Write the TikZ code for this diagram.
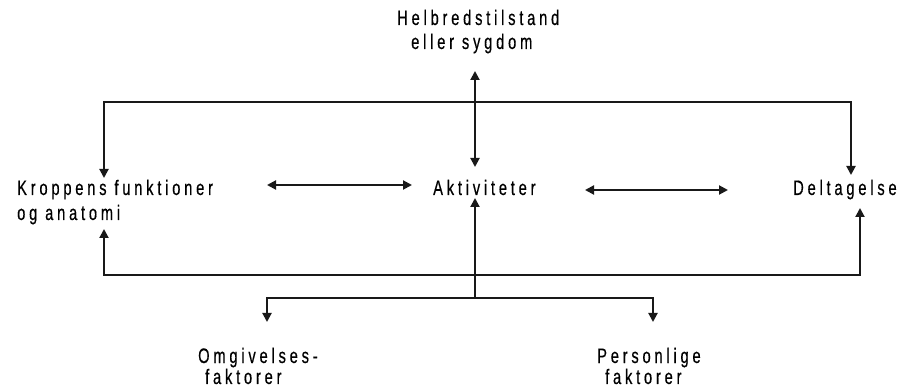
\documentclass[tikz,border=0pt]{standalone}
\usepackage{fontspec}
\setmainfont{Liberation Sans}[FakeStretch=0.7, LetterSpace=18, FakeBold=0.4]
\usetikzlibrary{arrows.meta}
\begin{document}
\begin{tikzpicture}[x=1pt,y=-1pt,
  lbl/.style={anchor=base west, inner sep=0pt, font=\fontsize{21}{24}\selectfont, text=black},
  conn/.style={line width=2pt, draw=black!90},
  tip/.style={-{Triangle[length=9pt,width=9pt]}},
  tips/.style={{Triangle[length=9pt,width=9pt]}-{Triangle[length=9pt,width=9pt]}}]
  \path[use as bounding box, fill=white] (0,0) rectangle (914,390);

  % labels
  \node[lbl] (helb) at (397,25) {Helbredstilstand};
  \node[lbl] (sygd) at (411,49) {eller sygdom};
  \node[lbl] (krop) at (17,195) {Kroppens funktioner};
  \node[lbl] (anat) at (17,220) {og anatomi};
  \node[lbl] (akt) at (433,195) {Aktiviteter};
  \node[lbl] (delt) at (793,195) {Deltagelse};
  \node[lbl] (omg) at (198,363) {Omgivelses-};
  \node[lbl] (omgf) at (205,384) {faktorer};
  \node[lbl] (pers) at (597,363) {Personlige};
  \node[lbl] (persf) at (605,384) {faktorer};

  % connector end points
  \coordinate (hTop) at (475,71);
  \coordinate (hBot) at (475,167);
  \coordinate (kR) at (267,185);
  \coordinate (aL) at (412,185);
  \coordinate (aR) at (585,190);
  \coordinate (dL) at (728,190);
  \coordinate (topL) at (104,102);
  \coordinate (topR) at (851,102);
  \coordinate (kTop) at (104,178);
  \coordinate (dTop) at (851,175);
  \coordinate (botL) at (104,275);
  \coordinate (botR) at (860,275);
  \coordinate (kBot) at (104,229);
  \coordinate (dBot) at (860,208);
  \coordinate (aBot) at (475,198);
  \coordinate (split) at (475,298);
  \coordinate (oTop) at (267,322);
  \coordinate (pTop) at (653,322);

  % arrows
  \draw[conn,tips] (hTop) -- (hBot);
  \draw[conn,tips] (kR) -- (aL);
  \draw[conn,tips] (aR) -- (dL);
  \draw[conn,tip] (topR |- topL) -- (topL) -- (kTop);
  \draw[conn,tip] (topL) -- (topR) -- (dTop);
  \draw[conn,tip] (botR) -- (botL) -- (kBot);
  \draw[conn,tip] (botL) -- (botR) -- (dBot);
  \draw[conn,tip] (split) -- (aBot);
  \draw[conn,tip] (split) -- (split -| oTop) -- (oTop);
  \draw[conn,tip] (split) -- (split -| pTop) -- (pTop);
\end{tikzpicture}
\end{document}
